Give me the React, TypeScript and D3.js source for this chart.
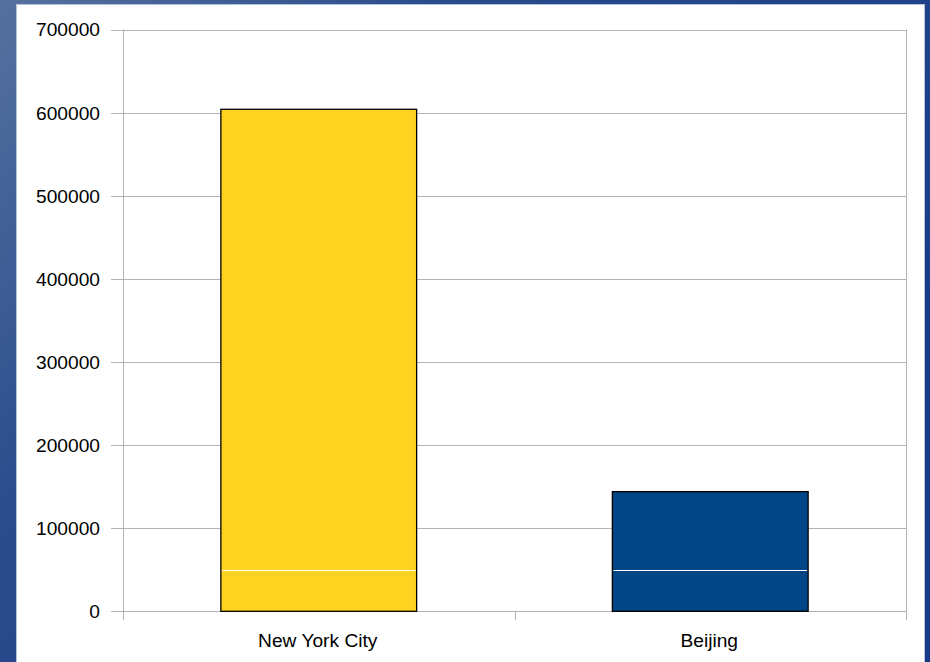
import React from "react";
import * as d3 from "d3";

const categories = ["New York City", "Beijing"];
const baseValues = [50000, 50000];
const topValues = [554000, 94000];
const barColors = ["#FFD320", "#004586"];
const yTicks = [0, 100000, 200000, 300000, 400000, 500000, 600000, 700000];

const W = 930;
const H = 662;
const left = 123;
const right = 906;
const top = 29.5;
const bottom = 611.3;

export default function App() {
  const x = d3
    .scaleBand<string>()
    .domain(categories)
    .range([left, right])
    .paddingInner(0.5)
    .paddingOuter(0.25);
  const y = d3.scaleLinear().domain([0, 700000]).range([bottom, top]);
  const step = (right - left) / categories.length;
  const catTicks = d3.range(categories.length + 1).map((i) => left + i * step);
  const font = "'Liberation Sans', Arial, sans-serif";
  const crisp = (v: number) => Math.round(v) + 0.5;

  return (
    <svg
      width={W}
      height={H}
      style={{ position: "absolute", left: 0, top: 0, display: "block" }}
    >
      <defs>
        <linearGradient id="bg" x1="0" y1="0" x2="1" y2="0.6">
          <stop offset="0" stopColor="#55719f" />
          <stop offset="0.35" stopColor="#2a4c8c" />
          <stop offset="1" stopColor="#173a86" />
        </linearGradient>
      </defs>
      <rect x={0} y={0} width={W} height={H} fill="url(#bg)" />
      <rect x={16.5} y={4.5} width={908} height={H} fill="#ffffff" stroke="#b4c2da" strokeWidth={1} />

      {yTicks.map((t) => (
        <line
          key={t}
          x1={111}
          x2={right}
          y1={crisp(y(t))}
          y2={crisp(y(t))}
          stroke="#b3b3b3"
          strokeWidth={1}
        />
      ))}
      <line x1={crisp(left)} x2={crisp(left)} y1={top} y2={620} stroke="#b3b3b3" />
      <line x1={crisp(right)} x2={crisp(right)} y1={top} y2={620} stroke="#b3b3b3" />
      {catTicks.map((cx, i) => (
        <line key={i} x1={crisp(cx)} x2={crisp(cx)} y1={bottom} y2={620} stroke="#b3b3b3" />
      ))}

      {categories.map((c, i) => {
        const bx = x(c)!;
        const bw = x.bandwidth();
        const total = baseValues[i] + topValues[i];
        return (
          <g key={c}>
            <rect x={bx} y={y(total)} width={bw} height={y(0) - y(total)} fill={barColors[i]} />
            <line
              x1={bx + 1}
              x2={bx + bw - 1}
              y1={crisp(y(baseValues[i]))}
              y2={crisp(y(baseValues[i]))}
              stroke="#ffffff"
              strokeWidth={1}
            />
            <rect
              x={bx}
              y={y(total)}
              width={bw}
              height={y(0) - y(total)}
              fill="none"
              stroke="#000000"
              strokeWidth={1.3}
            />
          </g>
        );
      })}

      {yTicks.map((t) => (
        <text
          key={t}
          x={100}
          y={y(t)}
          dy="0.36em"
          textAnchor="end"
          fontFamily={font}
          fontSize={19.2}
          fill="#000"
        >
          {t}
        </text>
      ))}

      {categories.map((c) => (
        <text
          key={c}
          x={x(c)! + x.bandwidth() / 2 - 1}
          y={647}
          textAnchor="middle"
          fontFamily={font}
          fontSize={19.2}
          fill="#000"
        >
          {c}
        </text>
      ))}
    </svg>
  );
}
